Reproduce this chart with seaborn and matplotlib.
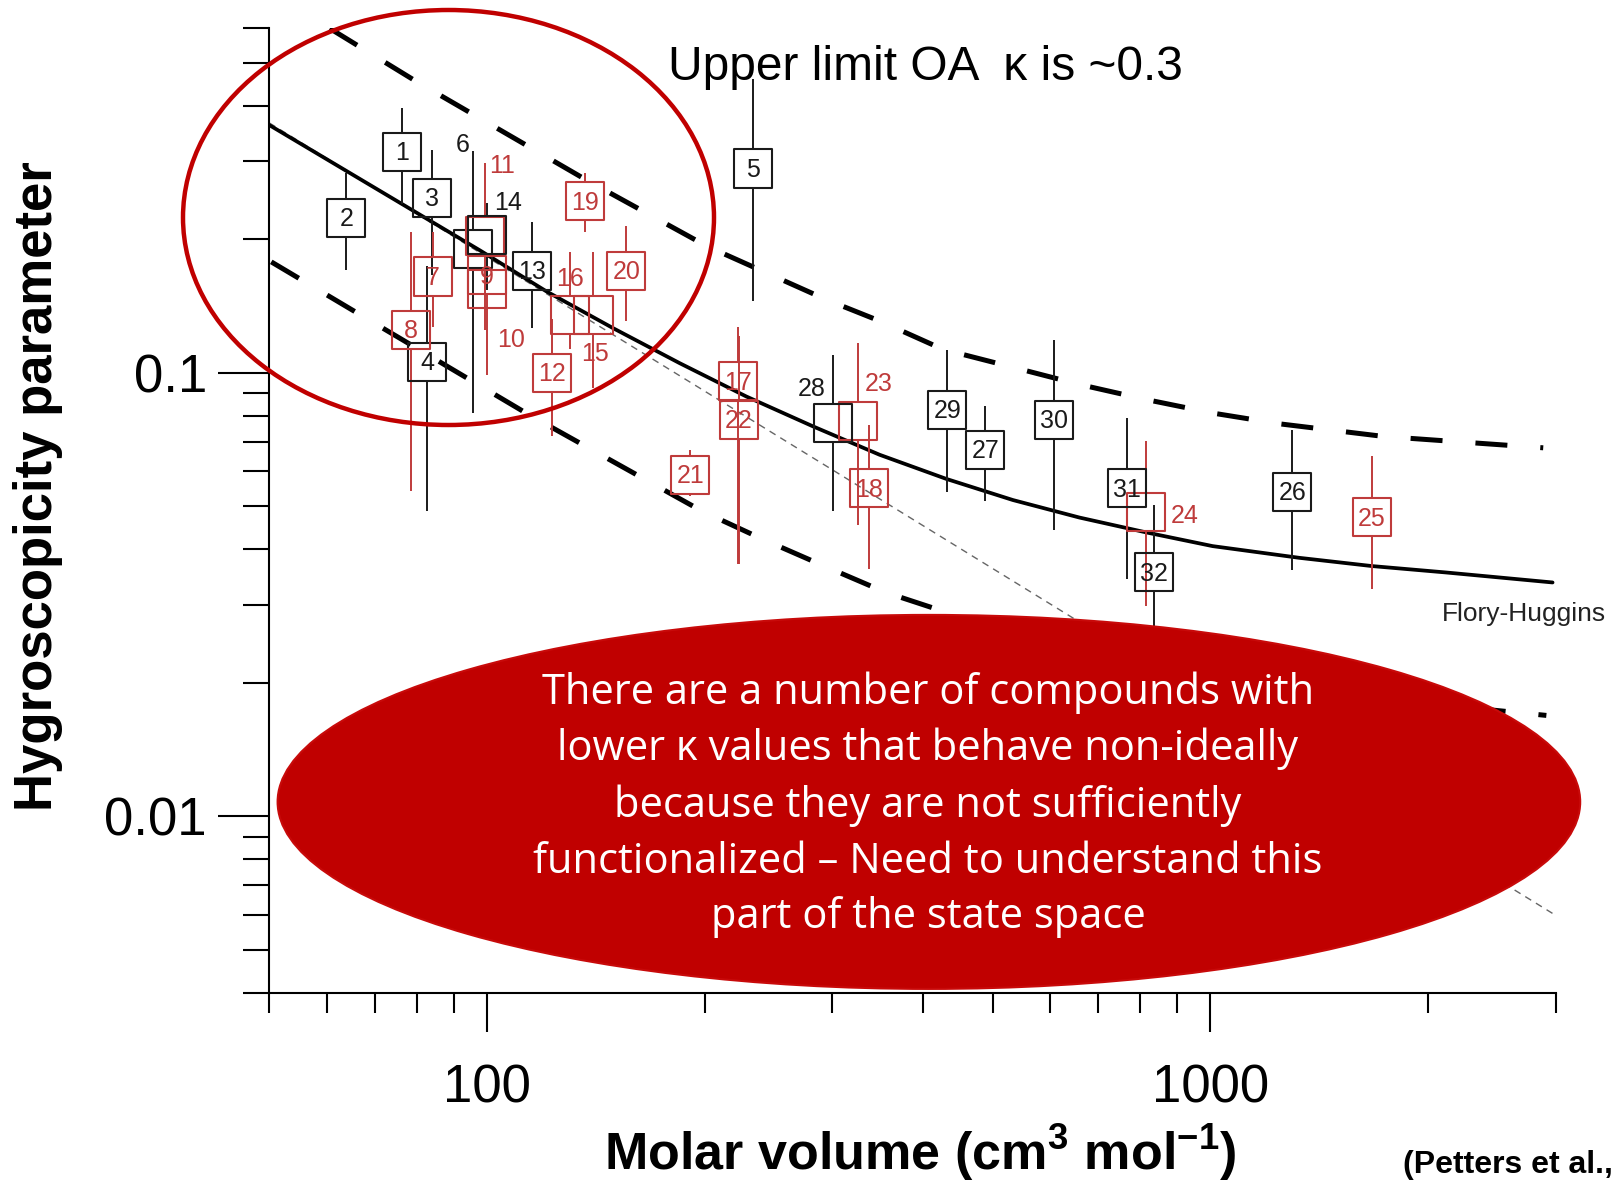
import numpy as np
import pandas as pd
import matplotlib
matplotlib.use("Agg")
import matplotlib.pyplot as plt
import seaborn as sns
from matplotlib.patches import Ellipse

# ---------------- data ----------------
compound_id = ["1", "2", "3", "4", "5", "6", "7", "8", "9", "10", "11", "12", "13", "14", "15", "16",
               "17", "18", "19", "20", "21", "22", "23", "24", "25", "26", "27", "28", "29", "30", "31", "32"]
molar_volume = [76.3, 63.9, 84.0, 82.7, 233.0, 95.7, 84.2, 78.5, 100.0, 100.0, 99.4, 122.8, 115.2, 99.9, 140.3, 130.1,
                222.0, 336.8, 136.4, 155.8, 191.0, 222.7, 325.5, 813.9, 1671.0, 1298.0, 488.6, 300.5, 432.9, 607.4, 767.3, 835.0]
kappa_value = [0.315, 0.224, 0.248, 0.106, 0.289, 0.190, 0.165, 0.125, 0.166, 0.155, 0.204, 0.100, 0.170, 0.205, 0.135, 0.135,
               0.0957, 0.0549, 0.244, 0.170, 0.059, 0.0784, 0.0781, 0.0486, 0.0473, 0.0539, 0.067, 0.077, 0.0826, 0.0784, 0.0549, 0.0355]
kappa_low = [0.241, 0.171, 0.166, 0.0488, 0.145, 0.0812, 0.127, 0.0541, 0.140, 0.0991, 0.125, 0.0719, 0.126, 0.154, 0.0925, 0.113,
             0.037, 0.0362, 0.208, 0.131, 0.0528, 0.037, 0.0455, 0.0299, 0.0325, 0.036, 0.0514, 0.0488, 0.0538, 0.0442, 0.0343, 0.0269]
kappa_high = [0.396, 0.282, 0.318, 0.174, 0.461, 0.317, 0.208, 0.208, 0.183, 0.173, 0.297, 0.132, 0.219, 0.2415, 0.187, 0.187,
              0.127, 0.0764, 0.282, 0.214, 0.0672, 0.121, 0.117, 0.0701, 0.0649, 0.0745, 0.0843, 0.110, 0.1127, 0.1188, 0.0791, 0.0505]
compound_group = ["black", "black", "black", "black", "black", "black", "red", "red", "red", "red", "red", "red", "black", "black", "red", "red",
                  "red", "red", "red", "red", "red", "red", "red", "red", "red", "black", "black", "black", "black", "black", "black", "black"]

fh_volume = [50, 97.7, 120.8, 149.3, 184.6, 228.2, 282.1, 348.8, 431.3, 533.2, 659.2, 815.2, 1007, 1327, 1671, 2115, 2972]
fh_kappa = [0.362, 0.189, 0.1527, 0.1262, 0.1052, 0.0885, 0.0758, 0.0654, 0.0577, 0.0517, 0.0472, 0.0437, 0.0407,
            0.0383, 0.0367, 0.0355, 0.0337]

upper_volume = [60.6, 79.3, 137.3, 201.4, 295.3, 348.8, 427, 533, 659, 815, 1007, 1245, 1738, 2885]
upper_kappa = [0.598, 0.457, 0.272, 0.193, 0.146, 0.131, 0.113, 0.103, 0.0942, 0.0871, 0.0812, 0.0768, 0.0719, 0.0678]

lower_volume = [50.3, 65.4, 113.2, 136.9, 198.2, 240.3, 292.4, 355.8, 436, 533, 659, 815, 1007, 1327, 1671, 2115, 2914]
lower_kappa = [0.178, 0.138, 0.0812, 0.0683, 0.0488, 0.0422, 0.0367, 0.032, 0.0287, 0.0258, 0.0236, 0.0218, 0.0204,
               0.0192, 0.0184, 0.0178, 0.0169]

ideal_volume = [50, 2995]
ideal_kappa = [0.366, 0.0060]

x_major_ticks = [100, 1000]
x_major_labels = ["100", "1000"]
x_minor_ticks = [50, 60, 70, 80, 90, 200, 300, 400, 500, 600, 700, 800, 900, 2000, 3000]
y_major_ticks = [0.01, 0.1]
y_major_labels = ["0.01", "0.1"]
y_minor_ticks = [0.004, 0.005, 0.006, 0.007, 0.008, 0.009, 0.02, 0.03, 0.04, 0.05, 0.06, 0.07, 0.08, 0.09,
                 0.2, 0.3, 0.4, 0.5, 0.6]

note_lines = ["There are a number of compounds with",
              "lower \u03ba values that behave non-ideally",
              "because they are not sufficiently",
              "functionalized \u2013 Need to understand this",
              "part of the state space"]

# labels drawn outside their box: offsets in points
outside_label_offset = {"6": (-8, 75), "14": (15, 23), "11": (12, 50), "10": (17, -37),
                        "16": (0, 26), "15": (1, -28), "28": (-15, 25), "23": (15, 26), "24": (28, -3)}

# ---------------- style ----------------
sns.set_style("ticks")
plt.rcParams["font.family"] = ["Liberation Sans", "DejaVu Sans"]
plt.rcParams["mathtext.fontset"] = "custom"
plt.rcParams["mathtext.rm"] = "Liberation Sans"
plt.rcParams["mathtext.bf"] = "Liberation Sans:bold"
plt.rcParams["text.color"] = "black"
plt.rcParams["axes.labelcolor"] = "black"
plt.rcParams["xtick.color"] = "black"
plt.rcParams["ytick.color"] = "black"

BLACK = "#1a1a1a"
RED = "#bf3b3b"
palette = {"black": BLACK, "red": RED}

W, H = 1612, 1181
fig = plt.figure(figsize=(W / 100, H / 100), dpi=100)
ax_l, ax_r, ax_t, ax_b = 269.4, 1555.5, 27.8, 993.0
ax = fig.add_axes([ax_l / W, 1 - ax_b / H, (ax_r - ax_l) / W, (ax_b - ax_t) / H])
ax.set_xscale("log")
ax.set_yscale("log")

pts = pd.DataFrame({"id": compound_id, "V": molar_volume, "k": kappa_value,
                    "lo": kappa_low, "hi": kappa_high, "group": compound_group})

# curves
sns.lineplot(x=ideal_volume, y=ideal_kappa, ax=ax, color="#666666", lw=1.0,
             linestyle=(0, (5, 4)), estimator=None, sort=False, legend=False, zorder=2)
sns.lineplot(x=fh_volume, y=fh_kappa, ax=ax, color="black", lw=2.7,
             estimator=None, sort=False, legend=False, zorder=3)
sns.lineplot(x=upper_volume, y=upper_kappa, ax=ax, color="black", lw=3.6,
             linestyle=(0, (6.4, 6.6)), estimator=None, sort=False, legend=False, zorder=3)
sns.lineplot(x=lower_volume, y=lower_kappa, ax=ax, color="black", lw=3.6,
             linestyle=(0, (6.4, 6.6)), estimator=None, sort=False, legend=False, zorder=3)

# error bars (split around the box)
box_half = 10 ** 0.044
for _, r in pts.iterrows():
    c = palette[r["group"]]
    if r["hi"] > r["k"] * box_half:
        ax.vlines(r["V"], r["k"] * box_half, r["hi"], color=c, lw=1.4, zorder=4)
    if r["lo"] < r["k"] / box_half:
        ax.vlines(r["V"], r["lo"], r["k"] / box_half, color=c, lw=1.4, zorder=4)

# boxes
sns.scatterplot(data=pts, x="V", y="k", hue="group", palette=palette, marker="s", s=750,
                linewidth=1.5, legend=False, ax=ax, zorder=5)
coll = ax.collections[-1]
coll.set_edgecolors(coll.get_facecolors())
coll.set_facecolors("none")

for _, r in pts.iterrows():
    c = palette[r["group"]]
    if r["id"] in outside_label_offset:
        ax.annotate(r["id"], (r["V"], r["k"]), xytext=outside_label_offset[r["id"]],
                    textcoords="offset points", ha="center", va="center",
                    fontsize=18, color=c, zorder=6)
    else:
        ax.annotate(r["id"], (r["V"], r["k"]), xytext=(0, -1), textcoords="offset points",
                    ha="center", va="center", fontsize=18, color=c, zorder=6)

# axes
ax.set_xlim(50, 3000)
ax.set_ylim(0.004, 0.6)
ax.set_xticks(x_major_ticks)
ax.set_xticklabels(x_major_labels)
ax.set_xticks(x_minor_ticks, minor=True)
ax.set_xticklabels([], minor=True)
ax.set_yticks(y_major_ticks)
ax.set_yticklabels(y_major_labels)
ax.set_yticks(y_minor_ticks, minor=True)
ax.set_yticklabels([], minor=True)
sns.despine(ax=ax)
for s in ["left", "bottom"]:
    ax.spines[s].set_linewidth(1.5)
    ax.spines[s].set_color("black")
ax.tick_params(axis="x", which="major", length=28, width=1.5, pad=23, labelsize=38, colors="black")
ax.tick_params(axis="x", which="minor", length=14.4, width=1.5, colors="black")
ax.tick_params(axis="y", which="major", length=37, width=1.5, pad=8, labelsize=38, colors="black")
ax.tick_params(axis="y", which="minor", length=19, width=1.5, colors="black")
ax.set_facecolor("white")

ax.set_xlabel("Molar volume (cm$^{\\mathbf{3}}$ mol$^{\\mathbf{-1}}$)", fontsize=37.5,
              fontweight="bold", va="center", color="black")
ax.xaxis.set_label_coords((920 - ax_l) / (ax_r - ax_l), (ax_b - 1153) / (ax_b - ax_t))
ax.set_ylabel("Hygroscopicity parameter", fontsize=38, fontweight="bold", va="center", color="black")
ax.yaxis.set_label_coords((38 - ax_l) / (ax_r - ax_l), (ax_b - 485.7) / (ax_b - ax_t))

# annotations
fig.text(668 / W, 1 - 68 / H, "Upper limit OA  \u03ba is ~0.3", fontsize=34.5,
         ha="left", va="center", color="black")
fig.text(1442 / W, 1 - 614 / H, "Flory-Huggins", fontsize=19, ha="left", va="center", color="#222222")
fig.text(1403 / W, 1 - 1165 / H, "(Petters et al.,", fontsize=23, fontweight="bold",
         ha="left", va="center", color="black")

fig.add_artist(Ellipse((448.5 / W, 1 - 217.5 / H), 531 / W, 415 / H, transform=fig.transFigure,
                       fill=False, ec="#c00000", lw=3.2, zorder=10))
fig.add_artist(Ellipse((928.9 / W, 1 - 801.9 / H), 1302.6 / W, 374 / H, transform=fig.transFigure,
                       fc="#c00000", ec="#c80a0a", lw=1.5, zorder=11))
fig.text(928 / W, 1 - 805 / H, "\n".join(note_lines), fontsize=30, family=["Open Sans", "DejaVu Sans"],
         color="white", ha="center", va="center", multialignment="center", linespacing=1.43, zorder=12)

fig.savefig("out.png", dpi=100)
